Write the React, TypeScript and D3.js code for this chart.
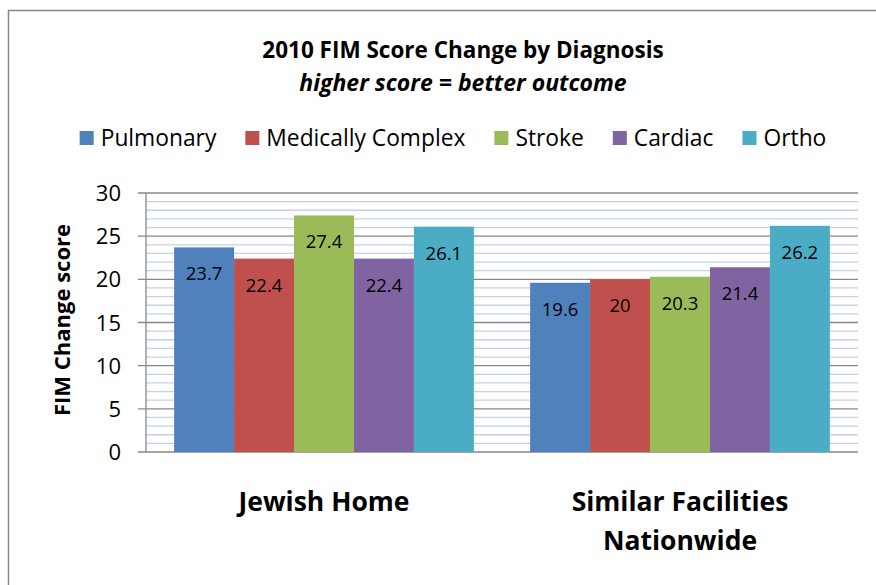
import React from 'react';
import * as d3 from 'd3';

const groups = ['Jewish Home', 'Similar Facilities Nationwide'];
const groupLines = [['Jewish Home'], ['Similar Facilities', 'Nationwide']];
const series = ['Pulmonary', 'Medically Complex', 'Stroke', 'Cardiac', 'Ortho'];
const colors = ['#4F81BD', '#C0504D', '#9BBB59', '#8064A2', '#4BACC6'];
const jewishHome = [23.7, 22.4, 27.4, 22.4, 26.1];
const nationwide = [19.6, 20, 20.3, 21.4, 26.2];
const yTicks = [0, 5, 10, 15, 20, 25, 30];
const values = [jewishHome, nationwide];

const font = "'Open Sans', sans-serif";

const measure = (text: string, size: number, weight = 'normal') => {
  const ctx = document.createElement('canvas').getContext('2d');
  if (!ctx) return text.length * size * 0.55;
  ctx.font = `${weight} ${size}px 'Open Sans'`;
  return ctx.measureText(text).width;
};

const App: React.FC = () => {
  const width = 876;
  const height = 585;
  const left = 146, right = 858, top = 193, bottom = 452;

  const y = d3.scaleLinear().domain([0, 30]).range([bottom, top]);
  const x0 = d3.scaleBand<string>().domain(groups).range([left, right])
    .paddingInner(0.158).paddingOuter(0.079);
  const x1 = d3.scaleBand<string>().domain(series).range([0, x0.bandwidth()]).padding(0);
  const minor = d3.range(0, 31, 1).filter(v => v % 5 !== 0);

  // legend layout
  const legendSize = 22.8;
  const legendWidths = series.map(s => measure(s, legendSize));
  const sw = 14, gapText = 7, gapItem = 29;
  const total = d3.sum(legendWidths) + series.length * (sw + gapText) + (series.length - 1) * gapItem;
  let lx = 453 - total / 2;
  const legendX = legendWidths.map(w => { const p = lx; lx += sw + gapText + w + gapItem; return p; });

  return (
    <svg width={width} height={height} style={{ position: 'absolute', left: 0, top: 0, background: '#fff' }}
      fontFamily={font}>
      <rect x={8.5} y={10.5} width={900} height={600} fill="#fff" stroke="#868686" strokeWidth={1.5} />

      <text x={463} y={58} textAnchor="middle" fontSize={22.5} fontWeight="bold">2010 FIM Score Change by Diagnosis</text>
      <text x={463} y={91} textAnchor="middle" fontSize={23} fontWeight="bold" fontStyle="italic">higher score = better outcome</text>

      {series.map((s, i) => (
        <g key={s} transform={`translate(${legendX[i]},0)`}>
          <rect x={0} y={131} width={sw} height={sw} fill={colors[i]} />
          <text x={sw + gapText} y={146} fontSize={legendSize}>{s}</text>
        </g>
      ))}

      {minor.map(v => (
        <line key={'m' + v} x1={left} x2={right} y1={y(v)} y2={y(v)} stroke="#C3D2EC" strokeWidth={1.3} />
      ))}
      {yTicks.map(v => (
        <g key={'t' + v}>
          <line x1={left - 8} x2={right} y1={y(v)} y2={y(v)} stroke="#878787" strokeWidth={1.3} />
          <text x={121} y={y(v) + 8} textAnchor="end" fontSize={22}>{v}</text>
        </g>
      ))}
      <line x1={left} x2={left} y1={top} y2={bottom} stroke="#878787" strokeWidth={1.3} />

      {groups.map((g, gi) => (
        <g key={g} transform={`translate(${x0(g)},0)`}>
          {series.map((s, si) => {
            const v = values[gi][si];
            return (
              <g key={s}>
                <rect x={x1(s)} y={y(v)} width={x1.bandwidth()} height={y(0) - y(v)} fill={colors[si]} />
                <text x={(x1(s) || 0) + x1.bandwidth() / 2} y={y(v) + 33} textAnchor="middle" fontSize={18.5}>{v}</text>
              </g>
            );
          })}
        </g>
      ))}

      {groups.map((g, gi) => (
        <text key={'c' + g} x={(x0(g) || 0) + x0.bandwidth() / 2} y={511} textAnchor="middle" fontSize={26.5} fontWeight="bold">
          {groupLines[gi].map((line, li) => (
            <tspan key={line} x={(x0(g) || 0) + x0.bandwidth() / 2} dy={li === 0 ? 0 : 39}>{line}</tspan>
          ))}
        </text>
      ))}

      <text transform="translate(70,320) rotate(-90)" textAnchor="middle" fontSize={22} fontWeight="bold">FIM Change score</text>
    </svg>
  );
};

export default App;
